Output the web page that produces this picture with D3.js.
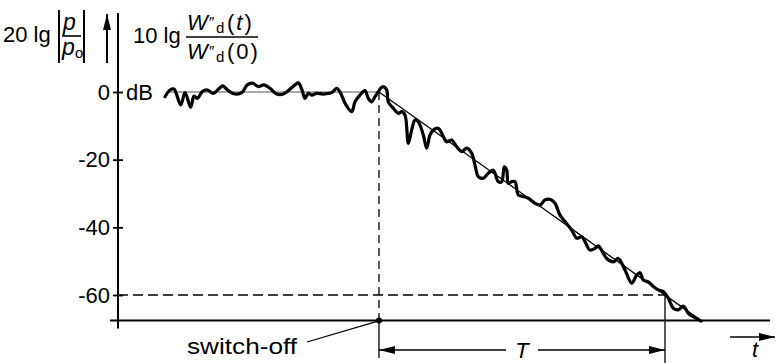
<!DOCTYPE html>
<html><head><meta charset="utf-8">
<script src="https://cdn.jsdelivr.net/npm/d3@7"></script>
<style>
body{margin:0;background:#fff}
svg{display:block}
text{font-family:"Liberation Sans",Arial,sans-serif;fill:#000}
</style>
</head><body><svg id="c" width="776" height="363"></svg>
<script>
// ---------- data ----------
const yTicks = [0, -20, -40, -60];
const yTickLabels = ["0", "-20", "-40", "-60"];
const switchOffTime = 26.1;      // switch-off instant
const reverbEndTime = 54.7;      // -60 dB reached
const floorLevel = -67.5;        // level of time axis
const decayEndTime = 58.27;      // ideal decay reaches floor
const curveTime = [4.70,5.20,5.60,6.27,6.70,7.27,7.60,7.93,8.43,8.93,9.53,10.13,10.47,11.03,11.70,12.37,12.93,13.47,14.03,14.60,15.20,15.87,16.53,17.70,18.03,18.40,18.70,19.03,19.37,19.87,20.53,21.37,21.87,22.27,22.70,23.37,23.70,24.20,24.70,25.03,25.37,25.70,26.03,26.30,26.53,26.87,27.03,27.53,28.03,28.37,28.70,29.03,29.37,29.70,30.03,30.53,30.87,31.20,31.53,32.03,32.37,32.87,33.37,33.87,34.37,34.87,35.37,35.70,36.03,36.53,37.03,37.53,38.03,38.37,38.63,38.87,39.03,39.37,39.70,40.03,40.53,41.03,41.70,42.20,42.70,43.20,43.70,44.20,44.70,45.37,45.87,46.37,46.70,47.20,47.70,48.03,48.53,48.87,49.53,50.03,50.70,51.37,51.87,52.20,52.53,53.03,53.53,54.03,54.53,55.03,55.53,56.03,56.53,57.03,57.53,58.03,58.30];
const curveLevel = [-1.4,0.6,0.9,-3.8,-0.2,-4.5,-1.2,-1.9,0.1,0.6,-0.4,1.1,1.8,0.4,-0.6,-0.2,2.1,2.6,1.6,2.1,1.1,-0.6,-0.6,2.1,2.7,0.6,-1.9,-0.4,-0.9,-0.4,-0.6,-0.2,1.1,-0.4,-3.3,-5.8,-2.9,-0.9,0.4,-1.9,-2.9,-1.4,0.1,1.2,1.6,0.6,-2.9,-4.8,-6.3,-5.8,-6.8,-15.2,-11.2,-8.3,-8.8,-12.7,-16.6,-12.7,-11.2,-10.7,-12.2,-14.7,-14.2,-16.2,-17.6,-16.6,-18.1,-21.6,-25.0,-25.5,-24.0,-23.1,-26.5,-26.5,-22.1,-23.1,-27.0,-26.5,-26.5,-30.4,-30.9,-31.4,-32.9,-33.4,-31.9,-31.7,-32.9,-36.4,-38.3,-40.8,-43.2,-42.8,-44.2,-46.7,-46.2,-45.5,-47.7,-49.2,-50.2,-49.2,-52.6,-56.5,-54.1,-53.4,-55.6,-56.1,-57.5,-58.5,-59.0,-61.0,-63.9,-64.4,-63.3,-65.4,-66.4,-67.2,-67.7];

// ---------- scales ----------
const svg = d3.select("#c");
const x = d3.scaleLinear().domain([0, 65.2]).range([118, 770]);
const y = d3.scaleLinear().domain([0, -60]).range([92, 295]);
const X0 = x(0), Yf = y(floorLevel);

// arrow marker
const defs = svg.append("defs");
defs.append("marker").attr("id","ah").attr("viewBox","0 0 16 8").attr("refX",16).attr("refY",4)
  .attr("markerWidth",16).attr("markerHeight",8).attr("markerUnits","userSpaceOnUse").attr("orient","auto")
  .append("path").attr("d","M0,0L16,4L0,8Z").attr("fill","#000");

// ---------- axes ----------
svg.append("line").attr("x1",X0).attr("x2",X0).attr("y1",13).attr("y2",Yf+8).attr("stroke","#000").attr("stroke-width",2);
svg.append("line").attr("x1",X0-8).attr("x2",x(65.2)).attr("y1",Yf).attr("y2",Yf).attr("stroke","#000").attr("stroke-width",2);

const ax = svg.append("g").attr("transform",`translate(${X0},0)`)
  .call(d3.axisLeft(y).tickValues(yTicks).tickFormat((d,i)=>yTickLabels[i]).tickSizeInner(5).tickSizeOuter(0).tickPadding(5));
ax.select(".domain").remove();
ax.selectAll(".tick line").attr("x2",5).attr("x1",-5).attr("stroke","#000").attr("stroke-width",1.8);
ax.selectAll(".tick text").attr("font-size",22).attr("font-family","Liberation Sans, Arial, sans-serif").attr("fill","#000").attr("x",-8);
svg.append("text").attr("x",X0+8).attr("y",y(0)).attr("dy","0.35em").attr("font-size",22).text("dB");

// ---------- reference lines ----------
svg.append("line").attr("x1",x(4.9)).attr("x2",x(switchOffTime)).attr("y1",y(0)).attr("y2",y(0)).attr("stroke","#555").attr("stroke-width",1.2);
svg.append("line").attr("x1",x(switchOffTime)).attr("x2",x(decayEndTime)).attr("y1",y(0)).attr("y2",y(floorLevel)).attr("stroke","#000").attr("stroke-width",1.3);

// dashed
svg.append("line").attr("x1",x(switchOffTime)).attr("x2",x(switchOffTime)).attr("y1",y(0)).attr("y2",Yf)
  .attr("stroke","#000").attr("stroke-width",1.3).attr("stroke-dasharray","8,5");
svg.append("line").attr("x1",X0).attr("x2",x(reverbEndTime)).attr("y1",y(-60)).attr("y2",y(-60))
  .attr("stroke","#000").attr("stroke-width",1.5).attr("stroke-dasharray","10,5");
// solid verticals below
svg.append("line").attr("x1",x(switchOffTime)).attr("x2",x(switchOffTime)).attr("y1",Yf).attr("y2",358).attr("stroke","#000").attr("stroke-width",1.3);
svg.append("line").attr("x1",x(reverbEndTime)).attr("x2",x(reverbEndTime)).attr("y1",y(-60)).attr("y2",363).attr("stroke","#000").attr("stroke-width",1.3);

// ---------- curve ----------
const pts = curveTime.map((t,i)=>[t, curveLevel[i]]);
svg.append("path").datum(pts)
  .attr("d", d3.line().x(d=>x(d[0])).y(d=>y(d[1])).curve(d3.curveCatmullRom.alpha(0.5)))
  .attr("fill","none").attr("stroke","#000").attr("stroke-width",3.2).attr("stroke-linejoin","round").attr("stroke-linecap","round");

// switch-off dot and label
svg.append("circle").attr("cx",x(switchOffTime)).attr("cy",Yf).attr("r",3).attr("fill","#000");
svg.append("line").attr("x1",307).attr("y1",342).attr("x2",x(switchOffTime)-2).attr("y2",Yf+1).attr("stroke","#000").attr("stroke-width",1.3);
svg.append("text").attr("x",187).attr("y",354).attr("font-size",22).attr("textLength",110).attr("lengthAdjust","spacingAndGlyphs").text("switch-off");

// T arrow
const Ty = 350, Tmid = (x(switchOffTime)+x(reverbEndTime))/2;
svg.append("line").attr("x1",Tmid-16).attr("x2",x(switchOffTime)).attr("y1",Ty).attr("y2",Ty).attr("stroke","#000").attr("stroke-width",1.3).attr("marker-end","url(#ah)");
svg.append("line").attr("x1",Tmid+16).attr("x2",x(reverbEndTime)).attr("y1",Ty).attr("y2",Ty).attr("stroke","#000").attr("stroke-width",1.3).attr("marker-end","url(#ah)");
svg.append("text").attr("x",Tmid).attr("y",Ty+8).attr("text-anchor","middle").attr("font-size",22).attr("font-style","italic").text("T");

// t arrow
svg.append("line").attr("x1",730).attr("x2",775).attr("y1",337).attr("y2",337).attr("stroke","#000").attr("stroke-width",1.5).attr("marker-end","url(#ah)");
svg.append("text").attr("x",752).attr("y",357).attr("font-size",22).attr("font-style","italic").text("t");

// ---------- header labels ----------
svg.append("text").attr("x",3).attr("y",42).attr("font-size",22).text("20 lg");
svg.append("line").attr("x1",59).attr("x2",59).attr("y1",10).attr("y2",63).attr("stroke","#000").attr("stroke-width",2);
svg.append("line").attr("x1",84).attr("x2",84).attr("y1",10).attr("y2",63).attr("stroke","#000").attr("stroke-width",2);
svg.append("text").attr("x",63).attr("y",30).attr("font-size",23).attr("font-style","italic").text("p");
svg.append("line").attr("x1",62).attr("x2",81).attr("y1",36).attr("y2",36).attr("stroke","#000").attr("stroke-width",1.6);
svg.append("text").attr("x",62).attr("y",55).attr("font-size",23).attr("font-style","italic").text("p");
svg.append("text").attr("x",75).attr("y",58).attr("font-size",15).text("o");
// up arrow
svg.append("line").attr("x1",107).attr("x2",107).attr("y1",63).attr("y2",14).attr("stroke","#000").attr("stroke-width",2).attr("marker-end","url(#ah)");

svg.append("text").attr("x",133).attr("y",43).attr("font-size",22).text("10 lg");
function wLabel(yb, arg, italicArg){
  svg.append("text").attr("x",187).attr("y",yb).attr("font-size",22).attr("font-style","italic").text("W");
  svg.append("text").attr("x",209).attr("y",yb-3).attr("font-size",15).text("\u2033");
  svg.append("text").attr("x",216).attr("y",yb+3).attr("font-size",15).text("d");
  const t = svg.append("text").attr("x",227).attr("y",yb).attr("font-size",22);
  t.append("tspan").text("(");
  t.append("tspan").attr("font-style",italicArg?"italic":"normal").attr("dx",2).text(arg);
  t.append("tspan").attr("dx",2).text(")");
}
wLabel(30,"t",true);
svg.append("line").attr("x1",186).attr("x2",258).attr("y1",37).attr("y2",37).attr("stroke","#000").attr("stroke-width",1.6);
wLabel(59,"0",false);
</script>
</body></html>
